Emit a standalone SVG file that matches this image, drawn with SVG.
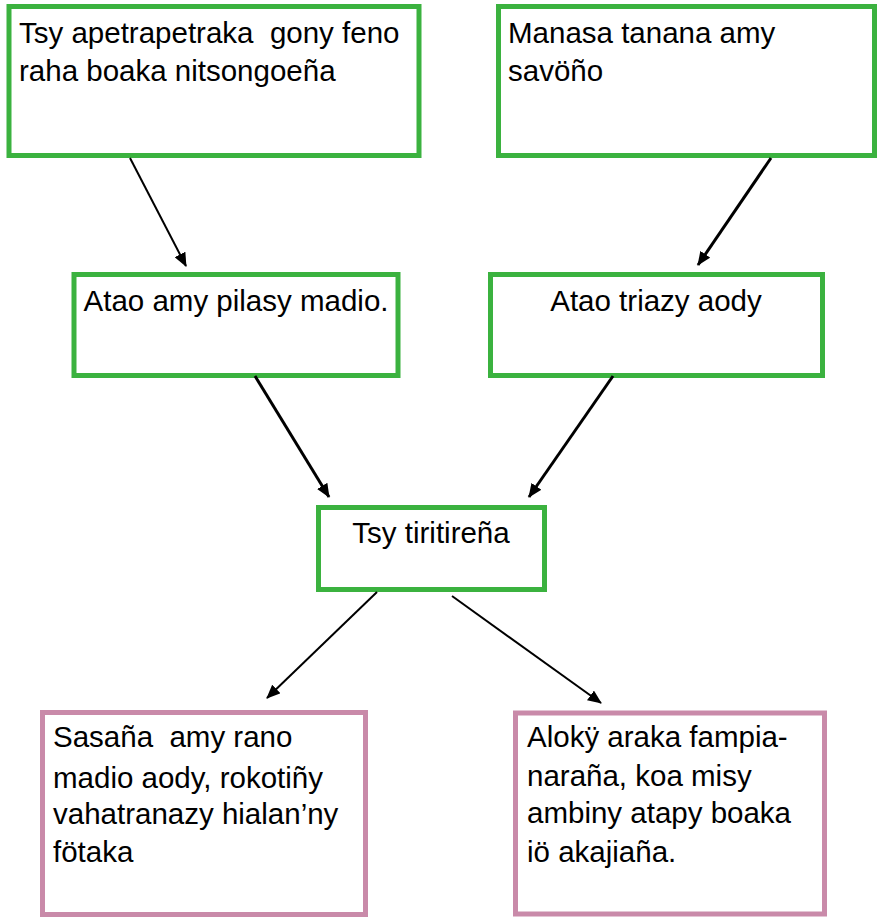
<svg xmlns="http://www.w3.org/2000/svg" width="878" height="917" viewBox="0 0 878 917">
<style>
.g{fill:#fff;stroke:#3bb23f;stroke-width:5}
.p{fill:#fff;stroke:#c98aa9;stroke-width:5}
text{font-family:"Liberation Sans",Arial,sans-serif;font-size:29.5px;fill:#000;white-space:pre}
.c{text-anchor:middle}
.a{stroke:#000;fill:none;stroke-width:3}
</style>
<defs>
<marker id="ah" markerUnits="userSpaceOnUse" markerWidth="14" markerHeight="12" refX="13" refY="6" orient="auto">
<path d="M0,0 L14,6 L0,12 z" fill="#000"/>
</marker>
</defs>
<g id="n1"><rect class="g" x="9" y="6.5" width="410" height="149"/>
<text x="19" y="43" xml:space="preserve">Tsy apetrapetraka  gony feno</text>
<text x="19" y="81">raha boaka nitsongoeña</text></g>
<g id="n2"><rect class="g" x="498.5" y="6.5" width="376" height="149"/>
<text x="508" y="43">Manasa tanana amy</text>
<text x="508" y="81">savöño</text></g>
<g id="n3"><rect class="g" x="74" y="274.5" width="324" height="101"/>
<text class="c" x="236" y="311">Atao amy pilasy madio.</text></g>
<g id="n4"><rect class="g" x="490.5" y="274.5" width="332" height="101"/>
<text class="c" x="656" y="311">Atao triazy aody</text></g>
<g id="n5"><rect class="g" x="318.5" y="507.5" width="226" height="82"/>
<text class="c" x="431" y="543">Tsy tiritireña</text></g>
<g id="n6"><rect class="p" x="42.5" y="712.5" width="323" height="202"/>
<text x="53" y="747" xml:space="preserve">Sasaña  amy rano</text>
<text x="53" y="788">madio aody, rokotiñy</text>
<text x="53" y="824">vahatranazy hialan’ny</text>
<text x="53" y="862">fötaka</text></g>
<g id="n7"><rect class="p" x="515.5" y="713" width="309" height="201"/>
<text x="527" y="747">Alokÿ araka fampia-</text>
<text x="527" y="786">naraña, koa misy</text>
<text x="527" y="823">ambiny atapy boaka</text>
<text x="527" y="862">iö akajiaña.</text></g>
<g id="connectors">
<line class="a" style="stroke-width:2" x1="130" y1="158" x2="186" y2="266" marker-end="url(#ah)"/>
<line class="a" x1="771" y1="158" x2="698" y2="265" marker-end="url(#ah)"/>
<line class="a" x1="255" y1="376" x2="329" y2="497" marker-end="url(#ah)"/>
<line class="a" x1="613" y1="376" x2="529" y2="497" marker-end="url(#ah)"/>
<line class="a" style="stroke-width:2" x1="377" y1="592" x2="267" y2="698" marker-end="url(#ah)"/>
<line class="a" style="stroke-width:2" x1="452" y1="596" x2="601" y2="703" marker-end="url(#ah)"/>
</g>
</svg>
